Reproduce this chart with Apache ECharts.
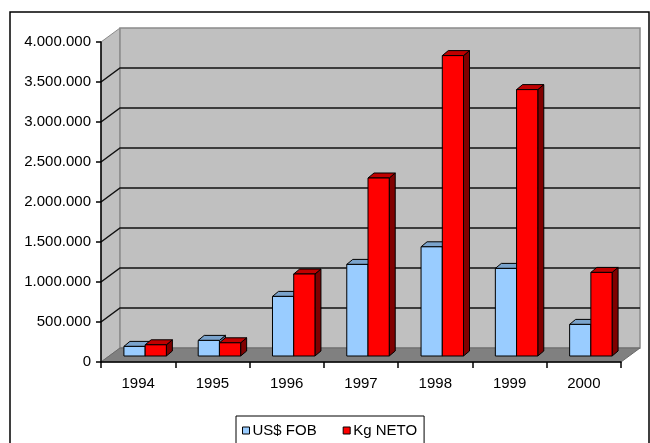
<!DOCTYPE html>
<html>
<head>
<meta charset="utf-8">
<script src="https://cdn.jsdelivr.net/npm/echarts@6/dist/echarts.min.js"></script>
<style>
  html, body { margin: 0; padding: 0; background: #fff; }
  #chart { width: 650px; height: 443px; }
</style>
</head>
<body>
<div id="chart"></div>
<script>
// Yearly exports: FOB value and net weight
const years = ['1994', '1995', '1996', '1997', '1998', '1999', '2000'];
const usdFob = [120000, 195000, 745000, 1145000, 1365000, 1095000, 395000];
const kgNeto = [140000, 165000, 1025000, 2225000, 3755000, 3330000, 1045000];
const seriesNames = ['US$ FOB', 'Kg NETO'];
const yMax = 4000000;
const yStep = 500000;

const FONT = '"Liberation Sans", Arial, sans-serif';

// Depth of the 3D box (back wall offset from the front plane)
const WALL_DX = 19, WALL_DY = -14;
// Bars sit inside the box: front face offset and bar depth
const BAR_FX = 7, BAR_FY = -6;
const BAR_DX = 6, BAR_DY = -5;

function fmt(v) {
  return String(v).replace(/\B(?=(\d{3})+(?!\d))/g, '.');
}

function renderWalls(params, api) {
  const cs = params.coordSys;
  const x0 = cs.x, x1 = cs.x + cs.width;
  const yv = v => api.coord([0, v])[1];
  const y0 = yv(0), yT = yv(yMax);
  const children = [];
  // left side wall
  children.push({
    type: 'polygon',
    shape: { points: [[x0, y0], [x0, yT], [x0 + WALL_DX, yT + WALL_DY], [x0 + WALL_DX, y0 + WALL_DY]] },
    style: { fill: '#c0c0c0', stroke: '#8a8a8a', lineWidth: 1 }
  });
  // back wall
  children.push({
    type: 'rect',
    shape: { x: x0 + WALL_DX, y: yT + WALL_DY, width: x1 - x0, height: y0 - yT },
    style: { fill: '#c0c0c0', stroke: '#8a8a8a', lineWidth: 1.5 }
  });
  // floor
  children.push({
    type: 'polygon',
    shape: { points: [[x0, y0], [x1, y0], [x1 + WALL_DX, y0 + WALL_DY], [x0 + WALL_DX, y0 + WALL_DY]] },
    style: { fill: '#808080', stroke: '#6a6a6a', lineWidth: 1 }
  });
  // gridlines across the side and back walls
  for (let v = yStep; v < yMax; v += yStep) {
    const y = yv(v);
    children.push({
      type: 'polyline',
      shape: { points: [[x0, y], [x0 + WALL_DX, y + WALL_DY], [x1 + WALL_DX, y + WALL_DY]] },
      style: { fill: null, stroke: '#111', lineWidth: 1.5 }
    });
  }
  return { type: 'group', children: children };
}

function makeBarRenderer(slot, colors) {
  return function (params, api) {
    const idx = api.value(0);
    const v = api.value(1);
    const base = api.coord([idx, 0]);
    const top = api.coord([idx, v]);
    const band = api.size([1, 0])[0];
    const bw = band / 3.5;
    const xl = base[0] + (slot === 0 ? -bw : 0) + BAR_FX;
    const xr = xl + bw;
    const yb = base[1] + BAR_FY;
    const yt = top[1] + BAR_FY;
    const stroke = { stroke: '#000', lineWidth: 1 };
    return {
      type: 'group',
      children: [
        {
          type: 'polygon',
          shape: { points: [[xr, yt], [xr + BAR_DX, yt + BAR_DY], [xr + BAR_DX, yb + BAR_DY], [xr, yb]] },
          style: Object.assign({ fill: colors.side }, stroke)
        },
        {
          type: 'polygon',
          shape: { points: [[xl, yt], [xr, yt], [xr + BAR_DX, yt + BAR_DY], [xl + BAR_DX, yt + BAR_DY]] },
          style: Object.assign({ fill: colors.top }, stroke)
        },
        {
          type: 'rect',
          shape: { x: xl, y: yt, width: bw, height: yb - yt },
          style: Object.assign({ fill: colors.front }, stroke)
        }
      ]
    };
  };
}

const blue = { front: '#99ccff', top: '#7aa3cc', side: '#5c7a99' };
const red = { front: '#ff0000', top: '#c00000', side: '#800000' };

const chart = echarts.init(document.getElementById('chart'), null, { renderer: 'canvas' });
chart.setOption({
  animation: false,
  backgroundColor: '#fff',
  textStyle: { fontFamily: FONT },
  grid: { left: 101, right: 29, top: 42, bottom: 81, containLabel: false },
  xAxis: {
    type: 'category',
    data: years,
    axisLine: { lineStyle: { color: '#000', width: 1.5 } },
    axisTick: { show: true, length: 6, lineStyle: { color: '#000', width: 1.5 } },
    axisLabel: { color: '#000', fontSize: 15, fontFamily: FONT, margin: 14 },
    z: 10
  },
  yAxis: {
    type: 'value',
    min: 0,
    max: yMax,
    interval: yStep,
    axisLine: { show: true, lineStyle: { color: '#000', width: 1.5 } },
    axisTick: { show: true, length: 5, lineStyle: { color: '#000', width: 1.5 } },
    splitLine: { show: false },
    axisLabel: { color: '#000', fontSize: 15, fontFamily: FONT, margin: 10, formatter: fmt },
    z: 10
  },
  legend: {
    data: seriesNames,
    left: 236,
    top: 416,
    orient: 'horizontal',
    icon: 'rect',
    itemWidth: 7,
    itemHeight: 7,
    itemGap: 26,
    padding: [7, 7, 8, 6],
    borderColor: '#000',
    borderWidth: 1,
    textStyle: { color: '#000', fontSize: 15, fontFamily: FONT, padding: [0, 0, 0, -2] },
    itemStyle: { borderColor: '#000', borderWidth: 1 }
  },
  graphic: [{
    type: 'rect',
    shape: { x: 10, y: 12, width: 639, height: 440 },
    style: { fill: null, stroke: '#000', lineWidth: 1.5 },
    z: 100,
    silent: true
  }],
  series: [
    {
      type: 'custom',
      name: 'walls',
      renderItem: renderWalls,
      data: [[0, 0]],
      encode: { x: 0, y: 1 },
      clip: false,
      silent: true,
      z: 1
    },
    {
      type: 'custom',
      name: seriesNames[0],
      renderItem: makeBarRenderer(0, blue),
      data: usdFob.map((v, i) => [i, v]),
      encode: { x: 0, y: 1 },
      itemStyle: { color: blue.front },
      clip: false,
      z: 3
    },
    {
      type: 'custom',
      name: seriesNames[1],
      renderItem: makeBarRenderer(1, red),
      data: kgNeto.map((v, i) => [i, v]),
      encode: { x: 0, y: 1 },
      itemStyle: { color: red.front },
      clip: false,
      z: 4
    }
  ]
});
</script>
</body>
</html>
